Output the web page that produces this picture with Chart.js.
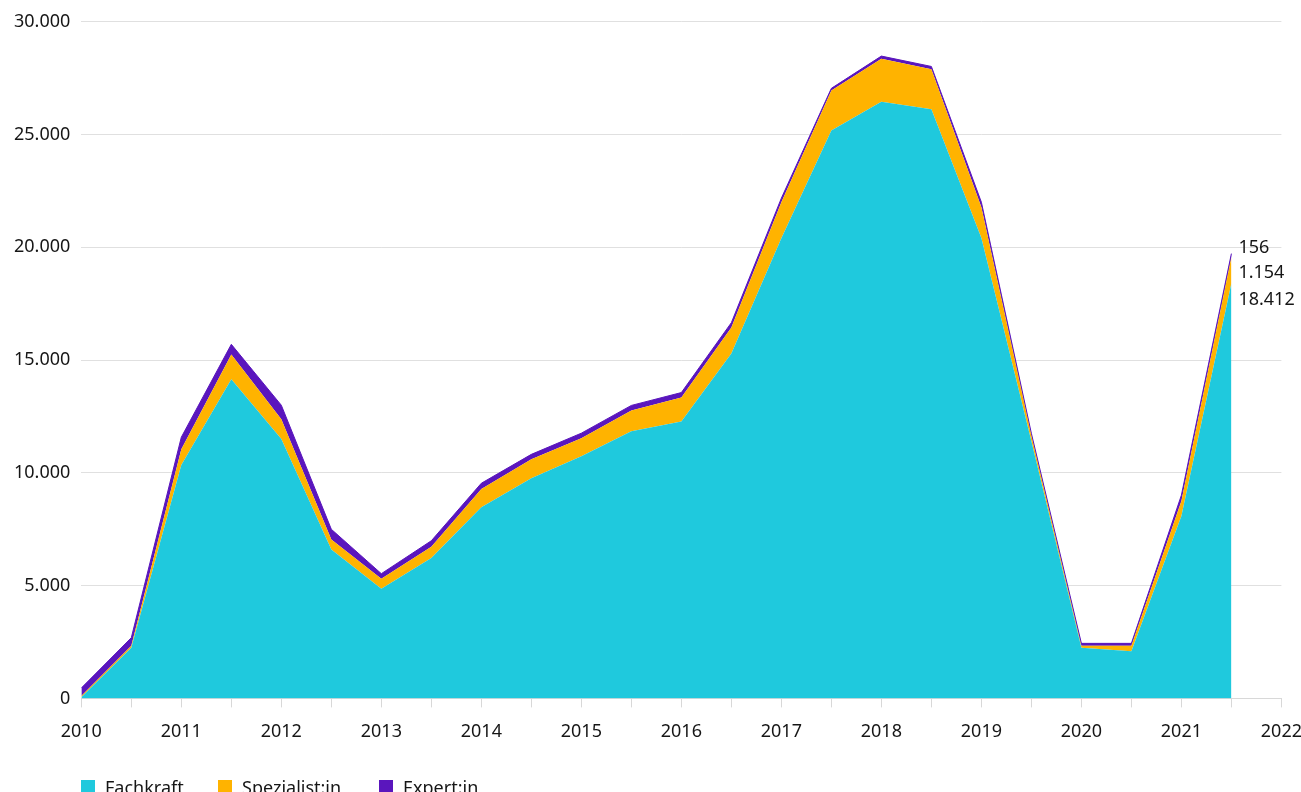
<!DOCTYPE html>
<html>
<head>
<meta charset="utf-8">
<script src="https://cdn.jsdelivr.net/npm/chart.js@4"></script>
<style>
  body { margin: 0; background: #fff; overflow: hidden; font-family: "Noto Sans", sans-serif; }
  #wrap { position: relative; width: 1301px; height: 792px; overflow: hidden; }
  #chartBox { position: absolute; left: 0; top: 0; width: 1316px; height: 792px; }
  .legend-item { position: absolute; top: 775px; display: flex; align-items: center; font-size: 18px; color: #161616; }
  .legend-item span.box { width: 14px; height: 14px; margin-right: 10px; display: inline-block; }
</style>
</head>
<body>
<div id="wrap">
  <div id="chartBox"><canvas id="myChart"></canvas></div>
  <div class="legend-item" style="left:81px"><span class="box" style="background:#1fc9dd"></span>Fachkraft</div>
  <div class="legend-item" style="left:218px"><span class="box" style="background:#ffb300"></span>Spezialist:in</div>
  <div class="legend-item" style="left:379px"><span class="box" style="background:#5a16bd"></span>Expert:in</div>
</div>
<script>
// Halbjahreswerte
const periods = [2010, 2010.5, 2011, 2011.5, 2012, 2012.5, 2013, 2013.5, 2014, 2014.5, 2015, 2015.5,
  2016, 2016.5, 2017, 2017.5, 2018, 2018.5, 2019, 2019.5, 2020, 2020.5, 2021, 2021.5];
const fachkraft = [50, 2250, 10350, 14150, 11500, 6600, 4860, 6230, 8480, 9760, 10740, 11840,
  12280, 15290, 20400, 25180, 26460, 26120, 20410, 11400, 2250, 2090, 8090, 18412];
const spezialist = [60, 90, 700, 1100, 880, 450, 450, 490, 800, 840, 800, 930,
  1060, 1150, 1600, 1770, 1900, 1780, 1370, 250, 90, 250, 660, 1154];
const expert = [350, 350, 530, 450, 620, 450, 220, 270, 260, 220, 220, 220,
  220, 220, 180, 100, 120, 120, 220, 100, 100, 100, 260, 156];

const seriesNames = ["Fachkraft", "Spezialist:in", "Expert:in"];
const colors = ["#1fc9dd", "#ffb300", "#5a16bd"];
const textColor = "#161616";
const fontFamily = '"Noto Sans", sans-serif';

const fmt = (v) => String(Math.round(v)).replace(/\B(?=(\d{3})+(?!\d))/g, ".");

const toPoints = (arr) => arr.map((v, i) => ({ x: periods[i], y: v }));

// Werte am letzten Punkt rechts daneben schreiben
const endLabels = {
  id: "endLabels",
  afterDatasetsDraw(chart) {
    const ctx = chart.ctx;
    const last = periods.length - 1;
    const x = chart.scales.x.getPixelForValue(periods[last]) + 7;
    const total = fachkraft[last] + spezialist[last] + expert[last];
    const top = chart.scales.y.getPixelForValue(total);
    ctx.save();
    ctx.font = "18px " + fontFamily;
    ctx.fillStyle = textColor;
    ctx.textBaseline = "middle";
    ctx.textAlign = "left";
    ctx.fillText(fmt(expert[last]), x, top - 6);
    ctx.fillText(fmt(spezialist[last]), x, top + 19);
    ctx.fillText(fmt(fachkraft[last]), x, top + 46);
    ctx.restore();
  },
};

const config = {
  type: "line",
  data: {
    datasets: [
      { label: seriesNames[0], data: toPoints(fachkraft), backgroundColor: colors[0], borderColor: colors[0], borderWidth: 0, fill: "origin" },
      { label: seriesNames[1], data: toPoints(spezialist), backgroundColor: colors[1], borderColor: colors[1], borderWidth: 0, fill: "-1" },
      { label: seriesNames[2], data: toPoints(expert), backgroundColor: colors[2], borderColor: colors[2], borderWidth: 1, fill: "-1" },
    ],
  },
  options: {
    responsive: true,
    maintainAspectRatio: false,
    animation: false,
    elements: { point: { radius: 0, hoverRadius: 0 }, line: { tension: 0 } },
    layout: { padding: { top: 2, right: 0, bottom: 35, left: 3 } },
    plugins: { legend: { display: false }, tooltip: { enabled: false } },
    scales: {
      x: {
        type: "linear",
        min: 2010,
        max: 2022,
        grid: { drawOnChartArea: false, drawTicks: true, tickLength: 9, color: "#d8d8d8" },
        border: { color: "#d8d8d8" },
        ticks: {
          stepSize: 0.5,
          autoSkip: false,
          maxRotation: 0,
          padding: 14,
          color: textColor,
          font: { family: fontFamily, size: 18 },
          callback: (v) => (Number.isInteger(v) ? String(v) : ""),
        },
      },
      y: {
        stacked: true,
        min: 0,
        max: 30000,
        grid: { color: "#e0e0e0", drawTicks: false },
        border: { display: false },
        ticks: {
          stepSize: 5000,
          padding: 11,
          color: textColor,
          font: { family: fontFamily, size: 18 },
          callback: (v) => fmt(v),
        },
      },
    },
  },
  plugins: [endLabels],
};

new Chart(document.getElementById("myChart"), config);
</script>
</body>
</html>
